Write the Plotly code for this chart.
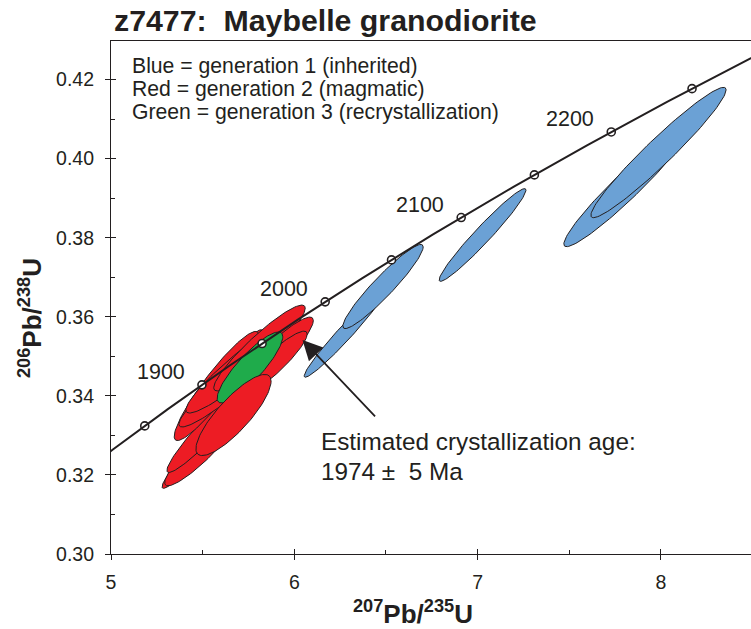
import numpy as np
import plotly.graph_objects as go

# ---------------- data ----------------
# U-Pb decay constants (per year)
LAMBDA_238 = 1.55125e-10
LAMBDA_235 = 9.8485e-10

concordia_age_range_ma = [1700, 2400]
marker_ages_ma = [1850, 1900, 1950, 2000, 2050, 2100, 2150, 2200, 2250]
labelled_ages_ma = [1900, 2000, 2100, 2200]

# error ellipses: centre, 2-sigma half extents, correlation
# generation 1 (inherited) - blue, in drawing order
blue_x = [6.274, 6.484, 7.027, 7.815, 7.987]
blue_xerr = [0.2200, 0.2191, 0.2368, 0.3445, 0.3688]
blue_y = [0.35577, 0.36765, 0.38068, 0.39320, 0.40154]
blue_yerr = [0.01106, 0.01064, 0.01172, 0.01548, 0.01648]
blue_rho = [0.972, 0.941, 0.968, 0.957, 0.962]

# generation 2 (magmatic) - red, in drawing order (last one lies over the green)
red_x = [5.5046, 5.4992, 5.6056, 5.5646, 5.5756, 5.6601, 5.7201, 5.8101, 5.8729, 5.8838, 5.6683]
red_xerr = [0.2260, 0.2062, 0.2207, 0.2595, 0.2307, 0.2895, 0.3116, 0.2495, 0.2310, 0.1865, 0.2050]
red_y = [0.32807, 0.32668, 0.34464, 0.33338, 0.34249, 0.34350, 0.34780, 0.35210, 0.34932, 0.34818, 0.33515]
red_yerr = [0.01146, 0.00944, 0.01208, 0.01276, 0.01380, 0.01137, 0.01215, 0.01085, 0.01059, 0.00818, 0.01026]
red_rho = [0.966, 0.914, 0.966, 0.958, 0.924, 0.939, 0.937, 0.927, 0.919, 0.909, 0.832]
red_above_green = [False] * 10 + [True]

# generation 3 (recrystallization) - green
green_x = [5.758]
green_xerr = [0.1791]
green_y = [0.34717]
green_yerr = [0.00898]
green_rho = [0.866]

legend_lines = [
    "Blue = generation 1 (inherited)",
    "Red = generation 2 (magmatic)",
    "Green = generation 3 (recrystallization)",
]
age_text_lines = ["Estimated crystallization age:", "1974 \u00b1\u00a0 5 Ma"]
arrow_tip = (6.0448, 0.35412)
arrow_tail = (6.4484, 0.33440)

# ---------------- styling ----------------
FONT = "Liberation Sans, Arial, Helvetica, sans-serif"
BLUE = "#6ba1d5"
RED = "#ed1c24"
GREEN = "#1fab4b"
INK = "#231f20"

X_RANGE = [5, 8.4915]
Y_RANGE = [0.30, 0.42974]


def ratios(age_ma):
    t = np.asarray(age_ma, dtype=float) * 1e6
    return np.exp(LAMBDA_235 * t) - 1.0, np.exp(LAMBDA_238 * t) - 1.0


def ellipse(cx, ex, cy, ey, rho, n=120):
    t = np.linspace(0, 2 * np.pi, n)
    x = cx + ex * np.cos(t)
    y = cy + ey * (rho * np.cos(t) + np.sqrt(1 - rho ** 2) * np.sin(t))
    return x, y


def add_ellipse(fig, cx, ex, cy, ey, rho, color):
    x, y = ellipse(cx, ex, cy, ey, rho)
    fig.add_trace(go.Scatter(x=x, y=y, mode="lines", fill="toself",
                             fillcolor=color, line=dict(color=INK, width=1),
                             hoverinfo="skip", showlegend=False))


fig = go.Figure()

for i in range(len(blue_x)):
    add_ellipse(fig, blue_x[i], blue_xerr[i], blue_y[i], blue_yerr[i], blue_rho[i], BLUE)
for i in range(len(red_x)):
    if not red_above_green[i]:
        add_ellipse(fig, red_x[i], red_xerr[i], red_y[i], red_yerr[i], red_rho[i], RED)
for i in range(len(green_x)):
    add_ellipse(fig, green_x[i], green_xerr[i], green_y[i], green_yerr[i], green_rho[i], GREEN)
for i in range(len(red_x)):
    if red_above_green[i]:
        add_ellipse(fig, red_x[i], red_xerr[i], red_y[i], red_yerr[i], red_rho[i], RED)

# concordia
mx, my = ratios(marker_ages_ma)
fig.add_trace(go.Scatter(x=mx, y=my, mode="markers",
                         marker=dict(symbol="circle", size=8, color="white",
                                     line=dict(color=INK, width=1.6)),
                         hoverinfo="skip", showlegend=False))
ages = np.linspace(concordia_age_range_ma[0], concordia_age_range_ma[1], 400)
cx_, cy_ = ratios(ages)
fig.add_trace(go.Scatter(x=cx_, y=cy_, mode="lines", line=dict(color=INK, width=2),
                         hoverinfo="skip", showlegend=False))

# dummy trace for the overlay (inside-tick) axes
fig.add_trace(go.Scatter(x=[], y=[], xaxis="x2", yaxis="y2", showlegend=False))

annotations = []
lx, ly = ratios(labelled_ages_ma)
for a, x, y in zip(labelled_ages_ma, lx, ly):
    annotations.append(dict(x=x, y=y, xref="x", yref="y", text=str(a), showarrow=False,
                            xshift=-41, yshift=13, font=dict(family=FONT, size=21.5, color=INK)))

legend_y = [0.9513, 0.9064, 0.8616]
for txt, yy in zip(legend_lines, legend_y):
    annotations.append(dict(x=0.0297, y=yy, xref="paper", yref="paper", text=txt,
                            showarrow=False, xanchor="left", yanchor="middle",
                            font=dict(family=FONT, size=21.2, color=INK)))

for txt, yy in zip(age_text_lines, [0.32839, 0.32080]):
    annotations.append(dict(x=6.133, y=yy, xref="x", yref="y", text=txt, showarrow=False,
                            xanchor="left", yanchor="middle",
                            font=dict(family=FONT, size=24.3, color=INK)))

annotations.append(dict(x=arrow_tip[0], y=arrow_tip[1], ax=arrow_tail[0], ay=arrow_tail[1],
                        xref="x", yref="y", axref="x", ayref="y", text="", showarrow=True,
                        arrowhead=2, arrowsize=2.2, arrowwidth=1.8, arrowcolor=INK))

# title
annotations.append(dict(x=0, y=1.0409, xref="paper", yref="paper", xshift=1,
                        text="z7477:\u00a0 Maybelle granodiorite", showarrow=False,
                        xanchor="left", yanchor="middle",
                        font=dict(family=FONT, size=30.3, color=INK, weight="bold")))
# axis titles
annotations.append(dict(x=0.4719, y=-0.1131, xref="paper", yref="paper",
                        text="<sup>207</sup>Pb/<sup>235</sup>U", showarrow=False,
                        xanchor="center", yanchor="middle",
                        font=dict(family=FONT, size=26, color=INK, weight="bold")))
annotations.append(dict(x=-0.1266, y=0.46, xref="paper", yref="paper", textangle=-90,
                        text="<sup>206</sup>Pb/<sup>238</sup>U", showarrow=False,
                        xanchor="center", yanchor="middle",
                        font=dict(family=FONT, size=26, color=INK, weight="bold")))

tickfont = dict(family=FONT, size=19.5, color=INK)
fig.update_layout(
    width=751, height=629,
    margin=dict(l=111, r=0, t=41, b=75),
    paper_bgcolor="white", plot_bgcolor="white",
    showlegend=False,
    annotations=annotations,
    xaxis=dict(range=X_RANGE, tick0=5, dtick=1, ticks="outside", ticklen=5, tickwidth=1.2,
               tickcolor=INK, showline=True, linecolor=INK, linewidth=1.2, mirror=True,
               showgrid=False, zeroline=False, tickfont=tickfont, ticklabelstandoff=5),
    xaxis2=dict(overlaying="x", anchor="y", range=X_RANGE, tick0=5, dtick=1, ticks="inside",
                ticklen=5, tickwidth=1.2, tickcolor=INK, showticklabels=False, showline=False,
                showgrid=False, zeroline=False,
                minor=dict(ticks="inside", ticklen=4, tick0=5, dtick=0.5, tickcolor=INK,
                           tickwidth=1, showgrid=False)),
    yaxis=dict(range=Y_RANGE, tick0=0.30, dtick=0.02, tickformat=".2f", ticks="outside",
               ticklen=5, tickwidth=1.2, tickcolor=INK, showline=True, linecolor=INK,
               linewidth=1.2, showgrid=False, zeroline=False, tickfont=tickfont,
               ticklabelstandoff=7),
    yaxis2=dict(overlaying="y", anchor="x", side="left", range=Y_RANGE, tick0=0.30, dtick=0.02,
                ticks="inside", ticklen=5, tickwidth=1.2, tickcolor=INK, showticklabels=False,
                showline=False, showgrid=False, zeroline=False,
                minor=dict(ticks="inside", ticklen=4, tick0=0.30, dtick=0.01, tickcolor=INK,
                           tickwidth=1, showgrid=False)),
)

fig.write_html("out.html")
